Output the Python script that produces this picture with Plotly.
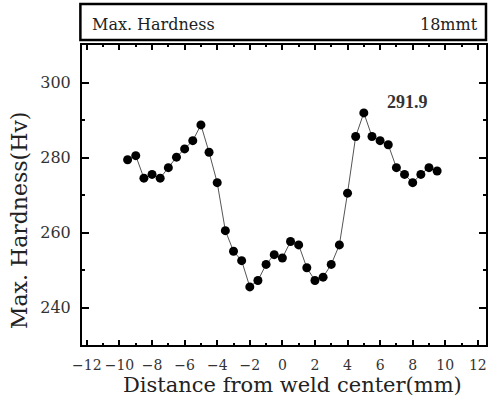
import plotly.graph_objects as go

# Hardness traverse across the weld (18 mm plate)
distance_mm = [-9.5, -9.0, -8.5, -8.0, -7.5, -7.0, -6.5, -6.0, -5.5, -5.0,
               -4.5, -4.0, -3.5, -3.0, -2.5, -2.0, -1.5, -1.0, -0.5, 0.0,
               0.5, 1.0, 1.5, 2.0, 2.5, 3.0, 3.5, 4.0, 4.5, 5.0,
               5.5, 6.0, 6.5, 7.0, 7.5, 8.0, 8.5, 9.0, 9.5]
hardness_hv = [279.4, 280.5, 274.5, 275.5, 274.5, 277.3, 280.1, 282.3, 284.5, 288.7,
               281.4, 273.3, 260.5, 255.0, 252.5, 245.5, 247.2, 251.5, 254.1, 253.2,
               257.6, 256.7, 250.6, 247.2, 248.1, 251.5, 256.7, 270.5, 285.6, 291.9,
               285.6, 284.5, 283.4, 277.3, 275.5, 273.3, 275.5, 277.3, 276.4]

x_ticks = [-12, -10, -8, -6, -4, -2, 0, 2, 4, 6, 8, 10, 12]
y_ticks = [240, 260, 280, 300]

peak_value = max(hardness_hv)
peak_x = distance_mm[hardness_hv.index(peak_value)]

SERIF = "DejaVu Serif"

fig = go.Figure()
fig.add_trace(go.Scatter(
    x=distance_mm, y=hardness_hv, mode="lines+markers",
    line=dict(color="#555555", width=1),
    marker=dict(color="black", size=9, symbol="circle"),
    showlegend=False,
))

axis_common = dict(
    showline=True, linecolor="black", linewidth=2, mirror="allticks",
    ticks="inside", tickcolor="black", tickwidth=2,
    showgrid=False, zeroline=False,
    tickfont=dict(family=SERIF, color="#333333"),
)

fig.update_xaxes(
    range=[-12.3, 12.5], tickvals=x_ticks, ticklen=5,
    minor=dict(ticks="inside", dtick=1, tick0=-12, ticklen=2, tickwidth=2, tickcolor="black"),
    ticklabelstandoff=6,
    **axis_common,
)
fig.layout.xaxis.tickfont.size = 14

fig.update_yaxes(
    range=[230, 310], tickvals=y_ticks, ticklen=7,
    minor=dict(ticks="inside", dtick=10, tick0=230, ticklen=3, tickwidth=2, tickcolor="black"),
    ticklabelstandoff=6,
    **axis_common,
)
fig.layout.yaxis.tickfont.size = 16

# Header box above the plot
fig.add_shape(type="rect", xref="paper", yref="paper",
              x0=-0.004, x1=1.0, y0=1.017, y1=1.137,
              line=dict(color="black", width=2.5), fillcolor="white")

annotations = [
    dict(text="Max. Hardness", x=0.02, y=1.067, xref="paper", yref="paper",
         xanchor="left", yanchor="middle", showarrow=False,
         font=dict(family=SERIF, size=16, color="#222222")),
    dict(text="18mmt", x=0.985, y=1.067, xref="paper", yref="paper",
         xanchor="right", yanchor="middle", showarrow=False,
         font=dict(family=SERIF, size=16, color="#222222")),
    dict(text=f"{peak_value:.1f}", x=peak_x + 2.7, y=peak_value + 3.0,
         xref="x", yref="y", showarrow=False, xanchor="center", yanchor="middle",
         font=dict(family="Liberation Serif", size=18, color="#333333", weight="bold")),
    dict(text="Distance from weld center(mm)", x=0.522, y=-0.133,
         xref="paper", yref="paper", xanchor="center", yanchor="middle", showarrow=False,
         font=dict(family=SERIF, size=21, color="#222222")),
    dict(text="Max. Hardness(Hv)", x=-0.153, y=0.417, textangle=-90,
         xref="paper", yref="paper", xanchor="center", yanchor="middle", showarrow=False,
         font=dict(family=SERIF, size=22, color="#222222")),
]

fig.update_layout(
    width=492, height=398,
    margin=dict(l=82, r=4, t=45, b=53),
    paper_bgcolor="white", plot_bgcolor="white",
    annotations=annotations,
)

fig.write_html("out.html")
